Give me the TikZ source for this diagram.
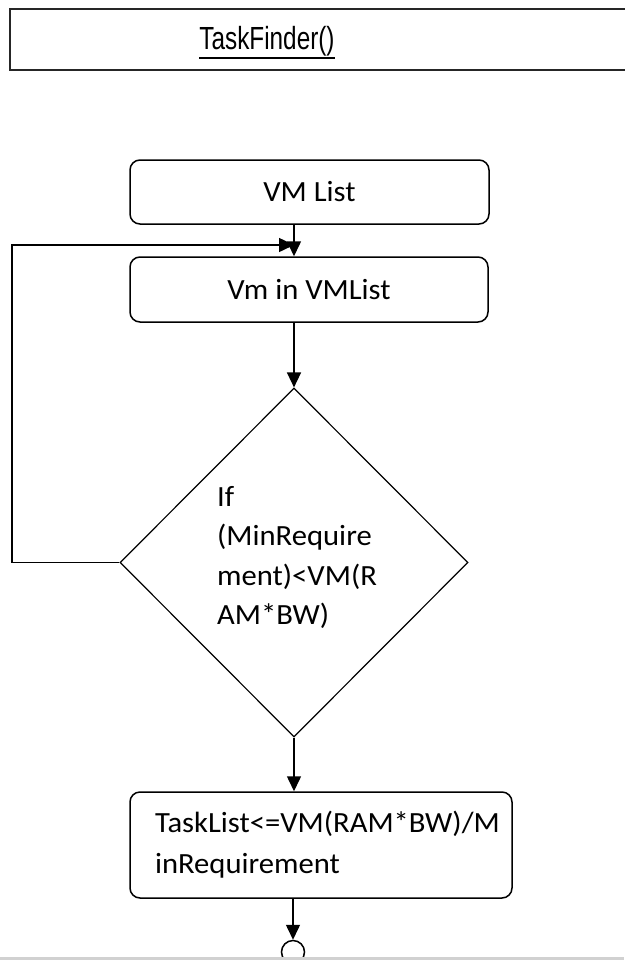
\documentclass[tikz,border=0pt]{standalone}
\usepackage{fontspec}
\setmainfont{Carlito}[FakeStretch=1.045]
\newfontfamily\titlefont{Liberation Sans}
\usetikzlibrary{shapes.geometric,arrows.meta,calc}

\begin{document}
\begin{tikzpicture}[x=1pt,y=-1pt,
  box/.style={draw, line width=1.5pt, rounded corners=10pt, inner sep=0pt,
              font=\fontsize{29.3}{34}\selectfont},
  decision/.style={draw, diamond, line width=1.2pt, inner sep=0pt, aspect=1,
              minimum width=348pt, minimum height=349pt, align=left,
              font=\fontsize{29.3}{39.5}\selectfont},
  arr/.style={line width=1.5pt, -{Triangle[length=15pt,width=14pt]}},
  link/.style={line width=1.5pt}]

\useasboundingbox (0,0) rectangle (624,963);
\fill[white] (0,0) rectangle (624,963);

% heading frame, open on the right
\draw[line width=1.8pt, color=black!85] (630,9) -- (10,9) -- (10,70) -- (630,70);
\node[inner sep=0pt, font=\titlefont\fontsize{32}{36}\selectfont, anchor=base]
  (title) at (267,50) {\scalebox{0.76}[1]{TaskFinder()}};
\draw[line width=2pt] ([yshift=-8pt]title.base west) -- ([yshift=-8pt]title.base east);

% flow
\node[box, minimum width=359pt, minimum height=64pt] (vmlist) at (309.5,192) {VM List};
\node[box, minimum width=358pt, minimum height=65pt] (vmin) at (309,289.5) {Vm in VMList};
\node[decision] (dec) at (294,562.5) {};
\node[align=left, inner sep=0pt, font=\fontsize{29.3}{39.5}\selectfont, anchor=north west]
  (dectext) at (217,486) {If\\(MinRequire\\ment)<VM(R\\AM*BW)};
\node[box, minimum width=382pt, minimum height=106pt, text width=332pt, align=left,
      font=\fontsize{29.3}{41}\selectfont] (tasklist) at (321,845)
  {TaskList<=VM(RAM*BW)/M\\inRequirement};
\node[draw, circle, line width=1.5pt, minimum size=23pt, inner sep=0pt] (endc) at (293,952) {};

\coordinate (corner) at (12,245);
\coordinate (merge) at (294,245);

\draw[arr] (vmlist.south -| dec.north) -- (vmin.north -| dec.north);
\draw[arr] (dec.west) -- (dec.west -| corner) -- (corner) -- (merge);
\draw[arr] (vmin.south -| dec.north) -- (dec.north);
\draw[arr] (dec.south) -- (tasklist.north -| dec.south);
\draw[arr] (tasklist.south -| endc.north) -- (endc.north);

% lower page edge
\fill[white] (0,958) rectangle (624,963);
\fill[black!18] (0,956.5) rectangle (624,959.5);
\end{tikzpicture}
\end{document}
